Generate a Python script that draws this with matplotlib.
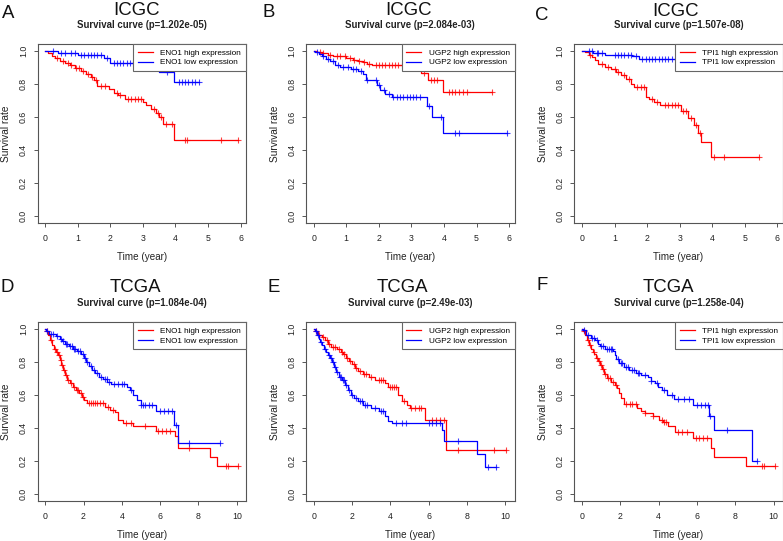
import numpy as np
import matplotlib
matplotlib.use('Agg')
import matplotlib.pyplot as plt

plt.rcParams['font.family'] = ['Liberation Sans', 'DejaVu Sans']

# ---- data (step times, survival after each step, censor times) ----
# A: ICGC, ENO1
a_high_t = [0.08, 0.2, 0.3, 0.45, 0.6, 0.75, 0.9, 1.1, 1.25, 1.4, 1.5, 1.6, 1.95, 2.1, 2.25, 2.45,
            3.0, 3.1, 3.25, 3.4, 3.5, 3.62, 3.95]
a_high_s = [0.985, 0.97, 0.955, 0.94, 0.925, 0.91, 0.895, 0.875, 0.86, 0.84, 0.82, 0.785, 0.77, 0.745,
            0.73, 0.71, 0.69, 0.67, 0.645, 0.62, 0.60, 0.555, 0.462]
a_high_c = [0.35, 0.55, 0.7, 0.8, 0.95, 1.05, 1.15, 1.3, 1.45, 1.55, 1.7, 1.85, 2.2, 2.3, 2.55, 2.65,
            2.75, 2.85, 2.95, 3.35, 3.45, 3.55, 3.7, 3.9, 4.3, 4.35, 5.4, 5.93]
a_low_t = [0.4, 1.0, 1.8, 2.0, 3.2, 3.5, 3.95]
a_low_s = [0.985, 0.975, 0.955, 0.925, 0.895, 0.87, 0.81]
a_low_c = [0.25, 0.5, 0.6, 0.8, 0.9, 1.1, 1.2, 1.3, 1.4, 1.5, 1.6, 1.7, 1.9, 2.1, 2.2, 2.3, 2.4, 2.5,
           2.6, 2.7, 2.8, 3.0, 3.75, 4.1, 4.2, 4.3, 4.4, 4.5, 4.6, 4.72]

# B: ICGC, UGP2
b_high_t = [0.1, 0.25, 0.45, 0.6, 1.0, 1.2, 1.35, 1.5, 1.65, 1.8, 3.3, 3.5, 3.97]
b_high_s = [0.99, 0.985, 0.975, 0.965, 0.955, 0.945, 0.935, 0.93, 0.92, 0.91, 0.865, 0.825, 0.752]
b_high_c = [0.2, 0.3, 0.5, 0.7, 0.8, 0.95, 1.1, 1.25, 1.4, 1.55, 1.7, 1.9, 2.0, 2.1, 2.2, 2.3, 2.4,
            2.5, 2.6, 2.7, 2.8, 2.9, 3.0, 3.4, 3.6, 3.7, 3.8, 4.15, 4.25, 4.35, 4.45, 4.6, 4.7, 5.47]
b_low_t = [0.05, 0.15, 0.25, 0.38, 0.5, 0.65, 0.8, 1.15, 1.35, 1.5, 1.6, 1.95, 2.05, 2.2, 2.4, 3.47,
           3.62, 3.97]
b_low_s = [0.99, 0.98, 0.965, 0.95, 0.935, 0.915, 0.9, 0.89, 0.875, 0.86, 0.822, 0.79, 0.76, 0.74,
           0.72, 0.665, 0.6, 0.5]
b_low_c = [0.1, 0.3, 0.45, 0.6, 0.75, 0.9, 1.05, 1.2, 1.3, 1.45, 1.65, 1.9, 2.0, 2.15, 2.3, 2.45, 2.55,
           2.65, 2.75, 2.85, 2.95, 3.05, 3.15, 3.25, 3.55, 3.9, 4.35, 4.45, 5.93]

# C: ICGC, TPI1
c_high_t = [0.1, 0.2, 0.3, 0.4, 0.5, 0.7, 0.9, 1.05, 1.2, 1.35, 1.5, 1.6, 1.95, 2.05, 2.2, 2.4, 3.03,
            3.25, 3.45, 3.55, 3.65, 3.97]
c_high_s = [0.99, 0.975, 0.96, 0.945, 0.92, 0.9, 0.89, 0.87, 0.85, 0.83, 0.8, 0.78, 0.72, 0.705, 0.69,
            0.67, 0.635, 0.595, 0.55, 0.5, 0.45, 0.357]
c_high_c = [0.25, 0.6, 0.8, 1.0, 1.1, 1.3, 1.45, 1.7, 1.8, 1.9, 2.15, 2.3, 2.55, 2.65, 2.75, 2.85,
            2.95, 3.1, 3.2, 3.35, 3.5, 3.62, 4.05, 4.35, 5.43]
c_low_t = [0.1, 0.35, 0.7, 1.55, 1.75]
c_low_s = [0.995, 0.985, 0.975, 0.965, 0.952]
c_low_c = [0.2, 0.3, 0.45, 0.5, 0.6, 1.0, 1.1, 1.2, 1.3, 1.4, 1.5, 1.65, 1.85, 1.95, 2.05, 2.15, 2.25,
           2.35, 2.45, 2.55, 2.65, 2.75, 2.9, 3.2]

# D: TCGA, ENO1
d_high_t = [0.05, 0.15, 0.25, 0.35, 0.45, 0.55, 0.65, 0.75, 0.85, 0.95, 1.05, 1.15, 1.3, 1.45, 1.6,
            1.75, 1.9, 2.05, 2.2, 3.1, 3.4, 3.65, 3.8, 4.05, 4.6, 5.8, 6.75, 6.95, 8.6, 8.95]
d_high_s = [0.985, 0.96, 0.93, 0.9, 0.88, 0.86, 0.84, 0.81, 0.78, 0.75, 0.72, 0.69, 0.67, 0.65, 0.63,
            0.61, 0.59, 0.57, 0.55, 0.525, 0.51, 0.495, 0.45, 0.43, 0.41, 0.38, 0.35, 0.28, 0.222, 0.168]
d_high_c = [0.1, 0.3, 0.5, 0.6, 0.7, 0.8, 0.9, 1.0, 1.1, 1.2, 1.35, 1.5, 1.65, 1.7, 1.85, 1.95, 2.3,
            2.4, 2.5, 2.6, 2.7, 2.85, 3.0, 3.3, 3.55, 4.2, 4.5, 5.2, 5.9, 6.1, 6.3, 6.5, 7.5, 9.45,
            9.55, 10.08]
d_low_t = [0.05, 0.2, 0.55, 0.75, 0.9, 1.05, 1.25, 1.45, 1.65, 1.85, 2.0, 2.15, 2.3, 2.45, 2.6, 2.8,
           3.0, 3.25, 3.45, 4.25, 4.45, 4.6, 4.8, 5.0, 5.8, 6.7, 6.92]
d_low_s = [0.985, 0.97, 0.955, 0.94, 0.925, 0.91, 0.895, 0.88, 0.865, 0.845, 0.825, 0.8, 0.775, 0.75,
           0.73, 0.71, 0.695, 0.68, 0.665, 0.65, 0.63, 0.6, 0.57, 0.54, 0.5, 0.415, 0.31]
d_low_c = [0.1, 0.3, 0.4, 0.6, 0.8, 0.95, 1.1, 1.15, 1.3, 1.4, 1.5, 1.55, 1.7, 1.8, 1.95, 2.1, 2.2,
           2.4, 2.55, 2.7, 2.9, 3.1, 3.2, 3.35, 3.6, 3.8, 4.0, 4.1, 4.5, 5.0, 5.1, 5.2, 5.4, 5.6, 6.0,
           6.2, 6.4, 6.6, 6.85, 7.5, 9.1]

# E: TCGA, UGP2
e_high_t = [0.05, 0.2, 0.45, 0.6, 0.75, 0.9, 1.2, 1.4, 1.55, 1.7, 1.85, 2.0, 2.15, 2.3, 2.55, 2.9,
            3.2, 3.7, 3.9, 4.4, 4.6, 4.85, 5.05, 5.8, 6.92]
e_high_s = [0.985, 0.96, 0.95, 0.93, 0.91, 0.89, 0.875, 0.86, 0.845, 0.825, 0.805, 0.785, 0.765, 0.745,
            0.725, 0.71, 0.69, 0.67, 0.65, 0.6, 0.56, 0.54, 0.52, 0.445, 0.268]
e_high_c = [0.1, 0.3, 0.5, 0.7, 0.8, 1.0, 1.1, 1.3, 1.5, 1.6, 1.75, 1.9, 2.1, 2.2, 2.4, 2.6, 2.75,
            3.0, 3.4, 3.5, 3.6, 4.0, 4.1, 4.2, 4.3, 4.7, 5.1, 5.3, 5.5, 5.6, 6.2, 6.4, 6.6, 6.8, 7.55,
            9.4, 10.05]
e_low_t = [0.05, 0.15, 0.25, 0.35, 0.45, 0.55, 0.65, 0.75, 0.85, 0.95, 1.05, 1.15, 1.3, 1.5, 1.65,
           1.8, 1.95, 2.1, 2.3, 2.55, 3.0, 3.4, 3.7, 3.9, 4.1, 6.7, 6.8, 8.55, 8.92]
e_low_s = [0.985, 0.96, 0.94, 0.92, 0.9, 0.88, 0.86, 0.84, 0.82, 0.8, 0.77, 0.74, 0.71, 0.69, 0.66,
           0.63, 0.6, 0.58, 0.56, 0.54, 0.52, 0.5, 0.47, 0.44, 0.43, 0.39, 0.32, 0.245, 0.163]
e_low_c = [0.1, 0.2, 0.4, 0.6, 0.8, 0.9, 1.0, 1.1, 1.2, 1.35, 1.45, 1.55, 1.6, 1.7, 1.85, 2.0, 2.2,
           2.4, 2.5, 2.7, 2.8, 3.2, 3.5, 3.6, 4.3, 4.6, 4.8, 6.0, 6.2, 6.4, 6.6, 7.55, 9.1, 9.53]

# F: TCGA, TPI1
f_high_t = [0.05, 0.15, 0.25, 0.35, 0.45, 0.55, 0.65, 0.75, 0.85, 0.95, 1.05, 1.15, 1.3, 1.5, 1.7,
            1.85, 1.95, 2.05, 2.2, 2.85, 3.1, 3.3, 3.7, 4.0, 4.25, 4.5, 4.85, 5.8, 6.75, 6.9, 8.55]
f_high_s = [0.985, 0.96, 0.93, 0.9, 0.88, 0.86, 0.845, 0.825, 0.805, 0.78, 0.755, 0.725, 0.7, 0.68,
            0.66, 0.64, 0.61, 0.58, 0.545, 0.52, 0.5, 0.49, 0.475, 0.45, 0.435, 0.41, 0.375, 0.34, 0.28,
            0.222, 0.168]
f_high_c = [0.1, 0.3, 0.4, 0.6, 0.8, 0.9, 1.0, 1.1, 1.2, 1.35, 1.45, 1.6, 1.75, 2.3, 2.5, 2.6, 2.8,
            3.3, 3.7, 4.2, 4.3, 4.4, 5.0, 5.2, 5.5, 5.95, 6.1, 6.3, 6.5, 9.4, 9.5, 10.07]
f_low_t = [0.05, 0.2, 0.45, 0.7, 0.85, 0.95, 1.2, 1.6, 1.7, 1.8, 1.95, 2.2, 2.45, 2.8, 3.1, 3.45, 3.6,
           3.8, 3.95, 4.2, 4.45, 4.8, 5.8, 6.65, 6.9, 8.87]
f_low_s = [0.99, 0.96, 0.945, 0.93, 0.91, 0.895, 0.88, 0.865, 0.84, 0.815, 0.79, 0.77, 0.75, 0.735,
           0.72, 0.705, 0.685, 0.67, 0.65, 0.63, 0.6, 0.575, 0.54, 0.47, 0.39, 0.2]
f_low_c = [0.1, 0.3, 0.5, 0.6, 0.8, 1.0, 1.1, 1.3, 1.4, 1.5, 1.55, 1.9, 2.05, 2.1, 2.3, 2.4, 2.6, 2.7,
           2.9, 3.0, 3.3, 3.6, 3.9, 4.3, 4.7, 5.0, 5.3, 5.6, 6.0, 6.2, 6.4, 6.6, 6.7, 7.55, 9.13]

letters = ['A', 'B', 'C', 'D', 'E', 'F']
cohorts = ['ICGC', 'ICGC', 'ICGC', 'TCGA', 'TCGA', 'TCGA']
pvalues = ['1.202e-05', '2.084e-03', '1.507e-08', '1.084e-04', '2.49e-03', '1.258e-04']
genes = ['ENO1', 'UGP2', 'TPI1', 'ENO1', 'UGP2', 'TPI1']
high = [(a_high_t, a_high_s, a_high_c), (b_high_t, b_high_s, b_high_c), (c_high_t, c_high_s, c_high_c),
        (d_high_t, d_high_s, d_high_c), (e_high_t, e_high_s, e_high_c), (f_high_t, f_high_s, f_high_c)]
low = [(a_low_t, a_low_s, a_low_c), (b_low_t, b_low_s, b_low_c), (c_low_t, c_low_s, c_low_c),
       (d_low_t, d_low_s, d_low_c), (e_low_t, e_low_s, e_low_c), (f_low_t, f_low_s, f_low_c)]
xticks_top = [0, 1, 2, 3, 4, 5, 6]
xticks_bottom = [0, 2, 4, 6, 8, 10]
yticks = [0.0, 0.2, 0.4, 0.6, 0.8, 1.0]


def km(ax, t, s, cens, color):
    t = np.asarray(t)
    s = np.asarray(s)
    c = np.asarray(cens)
    tend = max(c.max(), t.max())
    line, = ax.step(np.r_[0, t, tend], np.r_[1, s, s[-1]], where='post', color=color, lw=0.9)
    # censor marks sit on the curve level at their time
    cy = np.r_[1, s][np.searchsorted(t, c, side='right')]
    ax.plot(c, cy, '+', color=color, ms=4.6, mew=0.8, alpha=0.75)
    return line


W, H = 783, 541
fig = plt.figure(figsize=(W / 100, H / 100), dpi=100)

col_left = [37.5, 306, 574.3]
box_w = 208.5
row_top = [44, 322.1]
box_h = 178.6
letter_pos = [(2, 18.3), (262.7, 16.7), (535, 19.5), (0, 291.7), (267.7, 291.7), (537, 290.5)]
cohort_x = [136.7, 408.5, 676, 135, 402.7, 668.7]
cohort_base = [15, 15, 15.5, 291.7, 291.7, 291.7]
sub_base = [27.5, 28, 28, 306, 306, 306]

spine_col = '#555555'

for i in range(6):
    r, col = divmod(i, 3)
    left = col_left[col]
    top = row_top[r]
    ax = fig.add_axes([left / W, 1 - (top + box_h) / H, box_w / W, box_h / H])

    l1 = km(ax, *high[i], '#FF0000')
    l2 = km(ax, *low[i], '#0000FF')

    if r == 0:
        ax.set_xlim(-0.237, 6.167)
        ax.set_xticks(xticks_top)
    else:
        ax.set_xlim(-0.403, 10.483)
        ax.set_xticks(xticks_bottom)
    ax.set_ylim(-0.04, 1.04)
    ax.set_yticks(yticks)
    ax.set_yticklabels(['%.1f' % v for v in yticks], rotation=90, va='center')

    for sp in ax.spines.values():
        sp.set_color(spine_col)
        sp.set_linewidth(0.8)
    ax.tick_params(axis='both', length=3.1, width=0.7, color=spine_col, labelsize=6.3,
                   labelcolor='#222222')
    ax.tick_params(axis='x', pad=4.8)
    ax.tick_params(axis='y', pad=3.8)

    ax.set_xlabel('Time (year)', fontsize=7.1, color='#222222')
    ax.set_ylabel('Survival rate', fontsize=7.3, color='#222222')
    ax.xaxis.set_label_coords(0.5, -0.165)
    ax.yaxis.set_label_coords(-0.125, 0.5)

    leg = ax.legend([l1, l2], [genes[i] + ' high expression', genes[i] + ' low expression'],
                    loc='upper right', borderaxespad=0, fontsize=5.9, frameon=True, fancybox=False,
                    handlelength=1.8, handletextpad=0.9, labelspacing=0.25, borderpad=0.6)
    leg.get_frame().set_edgecolor('#666666')
    leg.get_frame().set_linewidth(0.8)
    leg.get_frame().set_alpha(1)

    center = left + box_w / 2
    fig.text(letter_pos[i][0] / W, 1 - letter_pos[i][1] / H, letters[i], fontsize=13.4,
             ha='left', va='baseline', color='#111111')
    fig.text(cohort_x[i] / W, 1 - cohort_base[i] / H, cohorts[i], fontsize=13.4,
             ha='center', va='baseline', color='#111111')
    fig.text(center / W, 1 - sub_base[i] / H, 'Survival curve (p=' + pvalues[i] + ')',
             fontsize=6.9, fontweight='bold', ha='center', va='baseline', color='#222222')

fig.savefig('out.png', dpi=100)
